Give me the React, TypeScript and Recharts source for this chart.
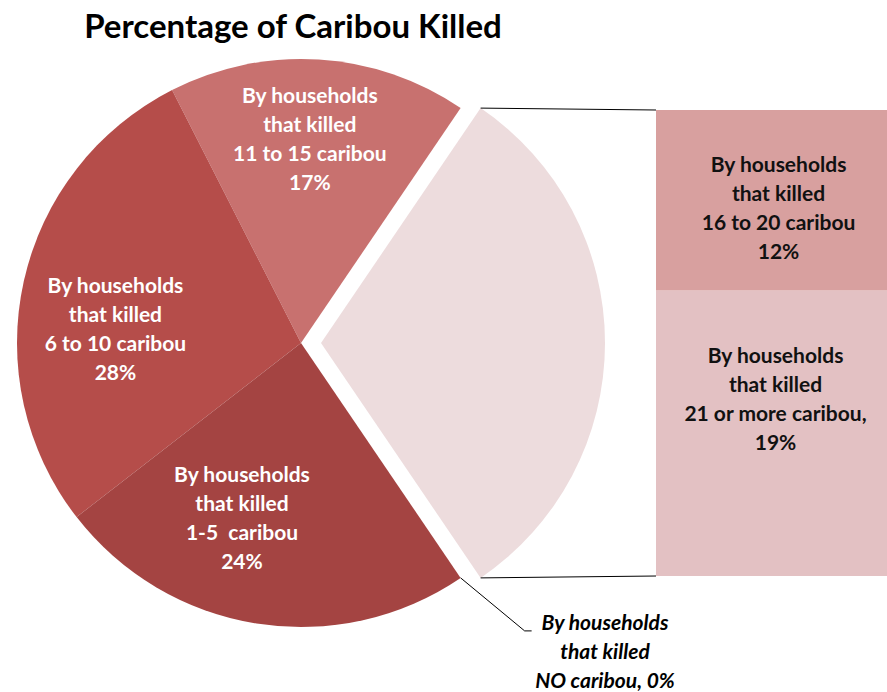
import React from 'react';
import { PieChart, Pie, Cell, BarChart, Bar, XAxis, YAxis, LabelList } from 'recharts';

// slice data (percent of caribou killed), counter-clockwise from the "other" slice
const pieNames = ['11 to 15 caribou', '6 to 10 caribou', '1-5  caribou', 'NO caribou'];
const pieValues = [17, 28, 24, 0];
const pieLabelLines = [
  ['By households', 'that killed', '11 to 15 caribou', '17%'],
  ['By households', 'that killed', '6 to 10 caribou', '28%'],
  ['By households', 'that killed', '1-5  caribou', '24%'],
  ['By households', 'that killed', 'NO caribou, 0%'],
];

// breakdown shown in the bar (bottom first)
const barNames = ['21 or more caribou', '16 to 20 caribou'];
const barValues = [19, 12];
const barLabelLines = [
  ['By households', 'that killed', '21 or more caribou,', '19%'],
  ['By households', 'that killed', '16 to 20 caribou', '12%'],
];

const otherValue = barValues.reduce((a, b) => a + b, 0);

const pieColors = ['#C8716F', '#B54D4A', '#A44442', '#A44442'];
const otherColor = '#EDDCDD';
const barColors = ['#E3C1C3', '#D8A09F'];

const W = 887;
const H = 692;
const CX = 301;
const CY = 343;
const R = 284;
const EXPLODE = 20;
const BAR_LEFT = 656;
const BAR_TOP = 110;
const BAR_W = 231;
const BAR_H = 466;
const FONT = "Lato, 'Open Sans', sans-serif";
const LINE_H = 29;
const LABEL_SIZE = 21;

// label anchor (angle in degrees, radius in px) per slice, as placed in the original
const labelSpots = [
  { a: 87.5, r: 203 },
  { a: 176, r: 186 },
  { a: 251.5, r: 186 },
];
const barLabelShift = [
  { dx: 4, dy: -33 },
  { dx: 7, dy: 9 },
];

const total = pieValues.reduce((a, b) => a + b, 0) + otherValue;
const startAngle = (otherValue / total) * 180;
const endAngle = startAngle + 360;

const pieData = [
  ...pieNames.map((name, i) => ({ name, value: pieValues[i] })),
  { name: 'Other', value: otherValue },
];
const barData = [{ name: 'Other', low: barValues[0], high: barValues[1] }];

const rad = (d: number) => (d * Math.PI) / 180;

function MultiLine({ x, y, lines, fill, italic }: { x: number; y: number; lines: string[]; fill: string; italic?: boolean }) {
  const top = y - ((lines.length - 1) * LINE_H) / 2;
  return (
    <text
      x={x}
      textAnchor="middle"
      fill={fill}
      fontFamily={FONT}
      fontSize={LABEL_SIZE}
      fontWeight="bold"
      fontStyle={italic ? 'italic' : 'normal'}
      style={{ whiteSpace: 'pre' }}
    >
      {lines.map((l, i) => (
        <tspan key={i} x={x} y={top + i * LINE_H + 6}>
          {l}
        </tspan>
      ))}
    </text>
  );
}

const renderSliceLabel = (props: any) => {
  const { index, cx, cy } = props;
  const spot = labelSpots[index];
  if (!spot) return null;
  const x = cx + spot.r * Math.cos(rad(spot.a));
  const y = cy - spot.r * Math.sin(rad(spot.a));
  return <MultiLine key={index} x={x} y={y} lines={pieLabelLines[index]} fill="#ffffff" />;
};

const barLabel = (seg: number) => (props: any) => {
  const { x, y, width, height } = props;
  const s = barLabelShift[seg];
  return (
    <MultiLine
      x={x + width / 2 + s.dx}
      y={y + height / 2 + s.dy}
      lines={barLabelLines[seg]}
      fill="#111111"
    />
  );
};

export default function App() {
  const otherMid = (startAngle + (startAngle - (otherValue / total) * 360)) / 2;
  const ex = EXPLODE * Math.cos(rad(otherMid));
  const ey = -EXPLODE * Math.sin(rad(otherMid));
  const topPt = { x: CX + ex + R * Math.cos(rad(startAngle)), y: CY + ey - R * Math.sin(rad(startAngle)) };
  const botPt = { x: CX + ex + R * Math.cos(rad(-startAngle)), y: CY + ey - R * Math.sin(rad(-startAngle)) };
  const zeroPt = { x: CX + R * Math.cos(rad(-startAngle)), y: CY - R * Math.sin(rad(-startAngle)) };

  return (
    <div style={{ position: 'absolute', left: 0, top: 0, width: W, height: H, background: '#fff', overflow: 'hidden' }}>
      <div style={{ position: 'absolute', left: 0, top: 0 }}>
        <PieChart width={W} height={H} margin={{ top: 0, right: 0, bottom: 0, left: 0 }}>
          <Pie
            data={pieData}
            dataKey="value"
            cx={CX}
            cy={CY}
            outerRadius={R}
            startAngle={startAngle}
            endAngle={endAngle}
            stroke="none"
            isAnimationActive={false}
            label={renderSliceLabel}
            labelLine={false}
          >
            {pieData.map((d, i) => (
              <Cell key={d.name} fill={i < pieColors.length ? pieColors[i] : 'none'} />
            ))}
          </Pie>
          <Pie
            data={pieData}
            dataKey="value"
            cx={CX + ex}
            cy={CY + ey}
            outerRadius={R}
            startAngle={startAngle}
            endAngle={endAngle}
            stroke="none"
            isAnimationActive={false}
          >
            {pieData.map((d, i) => (
              <Cell key={d.name} fill={i === pieData.length - 1 ? otherColor : 'none'} />
            ))}
          </Pie>
        </PieChart>
      </div>
      <div style={{ position: 'absolute', left: BAR_LEFT, top: BAR_TOP }}>
        <BarChart width={BAR_W} height={BAR_H} data={barData} margin={{ top: 0, right: 0, bottom: 0, left: 0 }} barCategoryGap={0}>
          <XAxis dataKey="name" hide />
          <YAxis hide domain={[0, otherValue]} />
          <Bar dataKey="low" name={barNames[0]} stackId="a" fill={barColors[0]} isAnimationActive={false}>
            <LabelList dataKey="low" content={barLabel(0)} />
          </Bar>
          <Bar dataKey="high" name={barNames[1]} stackId="a" fill={barColors[1]} isAnimationActive={false}>
            <LabelList dataKey="high" content={barLabel(1)} />
          </Bar>
        </BarChart>
      </div>
      <svg width={W} height={H} style={{ position: 'absolute', left: 0, top: 0, pointerEvents: 'none' }}>
        <text x={293} y={38} textAnchor="middle" fontFamily={FONT} fontSize={33} fontWeight="bold" fill="#000">
          Percentage of Caribou Killed
        </text>
        <line x1={topPt.x} y1={topPt.y} x2={BAR_LEFT} y2={BAR_TOP} stroke="#000" strokeWidth={1} />
        <line x1={botPt.x} y1={botPt.y} x2={BAR_LEFT} y2={BAR_TOP + BAR_H} stroke="#000" strokeWidth={1} />
        <polyline
          points={`${zeroPt.x},${zeroPt.y} ${zeroPt.x + 64},${zeroPt.y + 53} ${zeroPt.x + 71},${zeroPt.y + 53}`}
          fill="none"
          stroke="#000"
          strokeWidth={1}
        />
        <MultiLine x={605} y={653} lines={pieLabelLines[3]} fill="#000" italic />
      </svg>
    </div>
  );
}
